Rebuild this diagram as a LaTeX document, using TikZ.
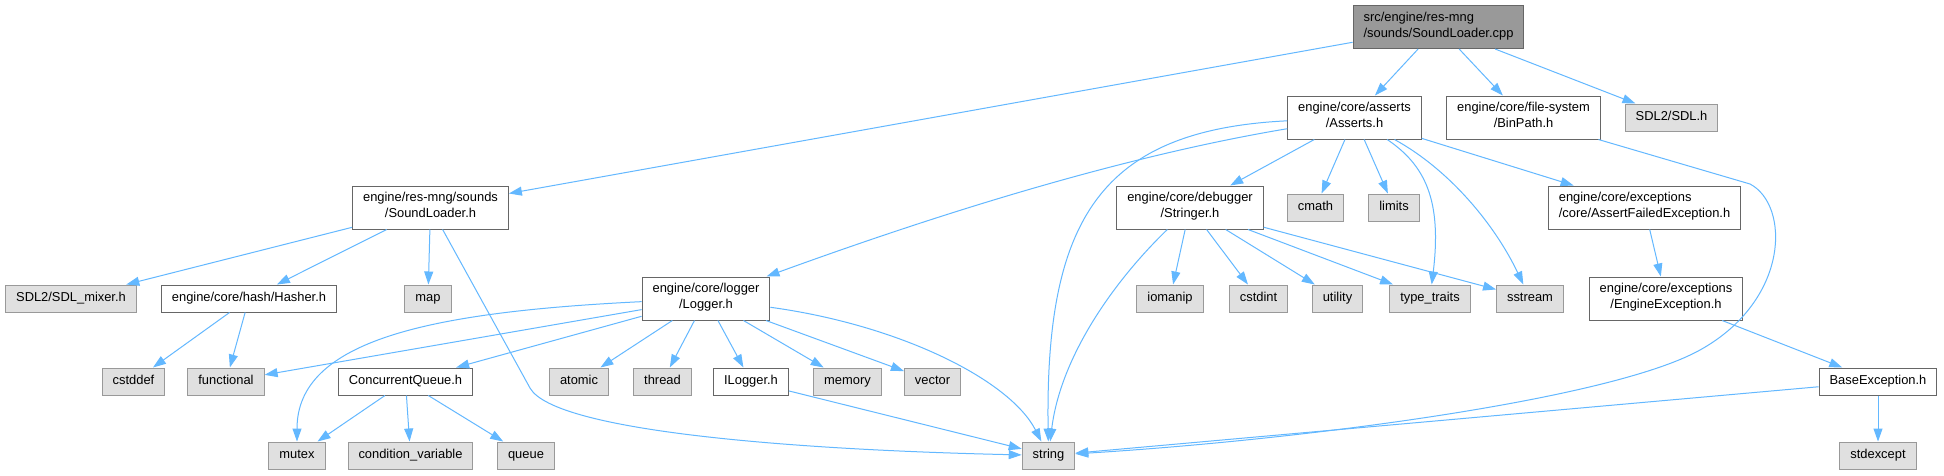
\documentclass[tikz,border=0pt]{standalone}
\usepackage{fontspec}
\setmainfont{Liberation Sans}
\usetikzlibrary{positioning,arrows.meta}
\definecolor{edgeblue}{HTML}{63B8FF}
\definecolor{boxline}{HTML}{666666}
\definecolor{sysline}{HTML}{999999}
\definecolor{sysfill}{HTML}{E0E0E0}
\definecolor{rootfill}{HTML}{999999}

\begin{document}
\begin{tikzpicture}[x=1pt, y=-1pt,
    file/.style = {draw=boxline, fill=white, line width=1pt, align=center, inner xsep=10.5pt, inner ysep=0pt, minimum height=27pt, font=\fontsize{12.9}{16}\selectfont, execute at begin node=\strut},
    sys/.style = {file, draw=sysline, fill=sysfill},
    top/.style = {file, fill=rootfill, align=left},
    two/.style = {minimum height=43pt},
    dep/.style = {draw=edgeblue, line width=1pt, -{Triangle[length=13pt, width=9pt]}}]

                \useasboundingbox[fill=white] (0,0) rectangle (1944,475);

                \node[top, two] (1) at (1438.5,27) {src/engine/res-mng\\/sounds/SoundLoader.cpp};

                \node[file, two] (2) at (1354.5,117.5) {engine/core/asserts\\/Asserts.h};
                \node[file, two] (3) [right of=2, node distance=169pt] {engine/core/file-system\\/BinPath.h};
                \node[sys] (4) [right of=3, node distance=148pt] {SDL2/SDL.h};

                \node[file, two] (5) at (430.5,207.5) {engine/res-mng/sounds\\/SoundLoader.h};
                \node[file, two] (6) [right of=5, node distance=759.5pt] {engine/core/debugger\\/Stringer.h};
                \node[sys] (7) [right of=6, node distance=125.5pt] {cmath};
                \node[sys] (8) [right of=7, node distance=78.5pt] {limits};
                \node[file, two, align=left] (9) [right of=8, node distance=250.5pt] {engine/core/exceptions\\/core/AssertFailedException.h};

                \node[sys] (10) at (71,298.5) {SDL2/SDL\_mixer.h};
                \node[file] (11) [right of=10, node distance=178pt] {engine/core/hash/Hasher.h};
                \node[sys] (12) [right of=11, node distance=179pt] {map};
                \node[file, two] (13) [right of=12, node distance=278pt] {engine/core/logger\\/Logger.h};
                \node[sys] (14) [right of=13, node distance=464pt] {iomanip};
                \node[sys] (15) [right of=14, node distance=88.5pt] {cstdint};
                \node[sys] (16) [right of=15, node distance=79pt] {utility};
                \node[sys] (17) [right of=16, node distance=92.5pt] {type\_traits};
                \node[sys] (18) [right of=17, node distance=100pt] {sstream};
                \node[file, two] (19) [right of=18, node distance=136pt] {engine/core/exceptions\\/EngineException.h};

                \node[sys] (20) at (133.5,381.5) {cstddef};
                \node[sys] (21) [right of=20, node distance=92.5pt] {functional};
                \node[file] (22) [right of=21, node distance=179.5pt] {ConcurrentQueue.h};
                \node[sys] (23) [right of=22, node distance=173.5pt] {atomic};
                \node[sys] (24) [right of=23, node distance=83.5pt] {thread};
                \node[file] (25) [right of=24, node distance=88.5pt] {ILogger.h};
                \node[sys] (26) [right of=25, node distance=96.5pt] {memory};
                \node[sys] (27) [right of=26, node distance=85pt] {vector};
                \node[file] (28) [right of=27, node distance=945.5pt] {BaseException.h};

                \node[sys] (29) at (297,455.5) {mutex};
                \node[sys] (30) [right of=29, node distance=113.5pt] {condition\_variable};
                \node[sys] (31) [right of=30, node distance=115.5pt] {queue};
                \node[sys] (32) [right of=31, node distance=522.5pt] {string};
                \node[sys] (33) [right of=32, node distance=829.5pt] {stdexcept};

                \draw[dep] (1) -- (5);
                \draw[dep] (1) -- (2);
                \draw[dep] (1) -- (3);
                \draw[dep] (1) -- (4);

                \draw[dep] (5) -- (10);
                \draw[dep] (5) -- (11);
                \draw[dep] (5) -- (12);
                \draw[dep] (5) -- (530,388) .. controls (555,432) and (800,450) .. (32);
                \draw[dep] (11) -- (20);
                \draw[dep] (11) -- (21);

                \draw[dep] (2) .. controls (1100,130) and (1045,220) .. (32);
                \draw[dep] (2) .. controls (1100,160) and (900,228) .. (13);
                \draw[dep] (2) -- (6);
                \draw[dep] (2) -- (7);
                \draw[dep] (2) -- (8);
                \draw[dep] (2) .. controls (1425,165) and (1442,200) .. (17);
                \draw[dep] (2) .. controls (1450,170) and (1495,225) .. (18);
                \draw[dep] (2) -- (9);
                \draw[dep] (3) -- (1750,184) .. controls (1790,205) and (1790,300) .. (1700,350) .. controls (1610,400) and (1300,440) .. (32);

                \draw[dep] (6) -- (14);
                \draw[dep] (6) -- (15);
                \draw[dep] (6) -- (16);
                \draw[dep] (6) -- (17);
                \draw[dep] (6) -- (18);
                \draw[dep] (6) .. controls (1110,285) and (1060,360) .. (32);
                \draw[dep] (9) -- (19);
                \draw[dep] (19) -- (28);
                \draw[dep] (28) -- (32);
                \draw[dep] (28) -- (33);

                \draw[dep] (13) -- (21);
                \draw[dep] (13) .. controls (430,312) and (297,340) .. (29);
                \draw[dep] (13) -- (22);
                \draw[dep] (13) -- (23);
                \draw[dep] (13) -- (24);
                \draw[dep] (13) -- (25);
                \draw[dep] (13) -- (26);
                \draw[dep] (13) -- (27);
                \draw[dep] (13) .. controls (900,325) and (1010,380) .. (32);
                \draw[dep] (25) -- (32);
                \draw[dep] (22) -- (29);
                \draw[dep] (22) -- (30);
                \draw[dep] (22) -- (31);

            \end{tikzpicture}
\end{document}
